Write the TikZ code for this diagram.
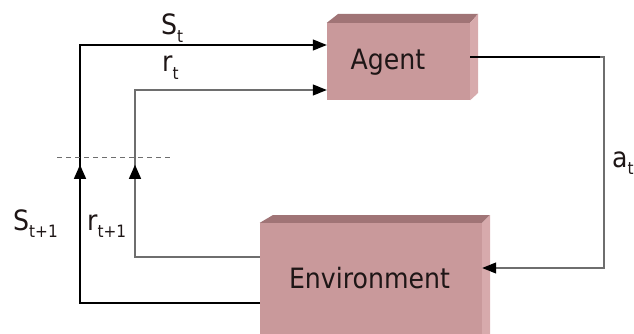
\documentclass[tikz,border=0pt]{standalone}
\usepackage{fontspec}
\setmainfont{DejaVu Sans}[FakeStretch=0.9]
\usetikzlibrary{arrows.meta,decorations.markings}

\definecolor{boxfront}{RGB}{201,153,155}
\definecolor{boxtop}{RGB}{160,116,118}
\definecolor{boxside}{RGB}{215,170,172}
\definecolor{inkdark}{RGB}{30,22,22}
\definecolor{wiregray}{RGB}{110,110,110}

% lowered small subscript in text font
\newcommand\lowsub[1]{\raisebox{-0.27em}{\fontsize{17}{17}\selectfont #1}}

\begin{document}
\begin{tikzpicture}[x=1pt,y=-1pt,
  front/.style={draw=none,fill=boxfront,inner sep=0pt},
  boxtext/.style={text=inkdark,font=\fontsize{28}{28}\selectfont,inner sep=0pt},
  sym/.style={text=inkdark,font=\fontsize{28}{28}\selectfont,inner sep=0pt,anchor=base west},
  tip/.style={-{Triangle[length=14pt,width=11pt,color=black]}},
  wire/.style={line width=1.2pt},
  upmark/.style={postaction={decorate},decoration={markings,
     mark=at position #1 with {\arrow{Triangle[length=14pt,width=12pt,color=black]}}}}
]
\useasboundingbox (0,0) rectangle (634,334);

% Agent block (front face, top face, side face)
\node[front,minimum width=143pt,minimum height=77pt] (Agent) at (398.5,61.5) {};
\fill[boxtop] (Agent.north west) -- (338,14) -- (478,14) -- (Agent.north east) -- cycle;
\fill[boxside] (Agent.north east) -- (478,14) -- (478,93) -- (Agent.south east) -- cycle;
\node[boxtext,anchor=base] (agentText) at (388,70) {Agent};

% Environment block
\node[front,minimum width=222pt,minimum height=115pt] (Env) at (371,280.5) {};
\fill[boxtop] (Env.north west) -- (273,215) -- (490,215) -- (Env.north east) -- cycle;
\fill[boxside] (Env.north east) -- (490,215) -- (490,340) -- (Env.south east) -- cycle;
\node[boxtext,anchor=base] (envText) at (369.5,288) {Environment};

% state feedback: environment -> agent
\draw[wire,black,tip,upmark=318pt]
  (Env.west |- 0,303) -- (80,303) -- (80,45) -- (Agent.west |- 0,45);
% reward feedback: environment -> agent
\draw[wire,wiregray,tip,upmark=217pt]
  (Env.west |- 0,257) -- (135,257) -- (135,90) -- (Agent.west |- 0,90);

% action: agent -> environment
\draw[wire,wiregray,tip] (Agent.east |- 0,57) -- (604,57) -- (604,268) -- (Env.east |- 0,268);
\draw[wire,black] (Agent.east |- 0,57) -- (600,57);

% time-step cut
\coordinate (cutL) at (57,157);
\coordinate (cutR) at (170,157);
\draw[wiregray,line width=1pt,dash pattern=on 5pt off 4pt] (cutL) -- (cutR);

% signal labels
\node[sym] (lblSt) at (161,35) {S\lowsub{t}};
\node[sym] (lblRt) at (162,72) {r\lowsub{t}};
\node[sym] (lblSt1) at (13,230) {S\lowsub{t+1}};
\node[sym] (lblRt1) at (87,230) {r\lowsub{t+1}};
\node[sym] (lblAt) at (612,167) {a\lowsub{t}};
\end{tikzpicture}
\end{document}
